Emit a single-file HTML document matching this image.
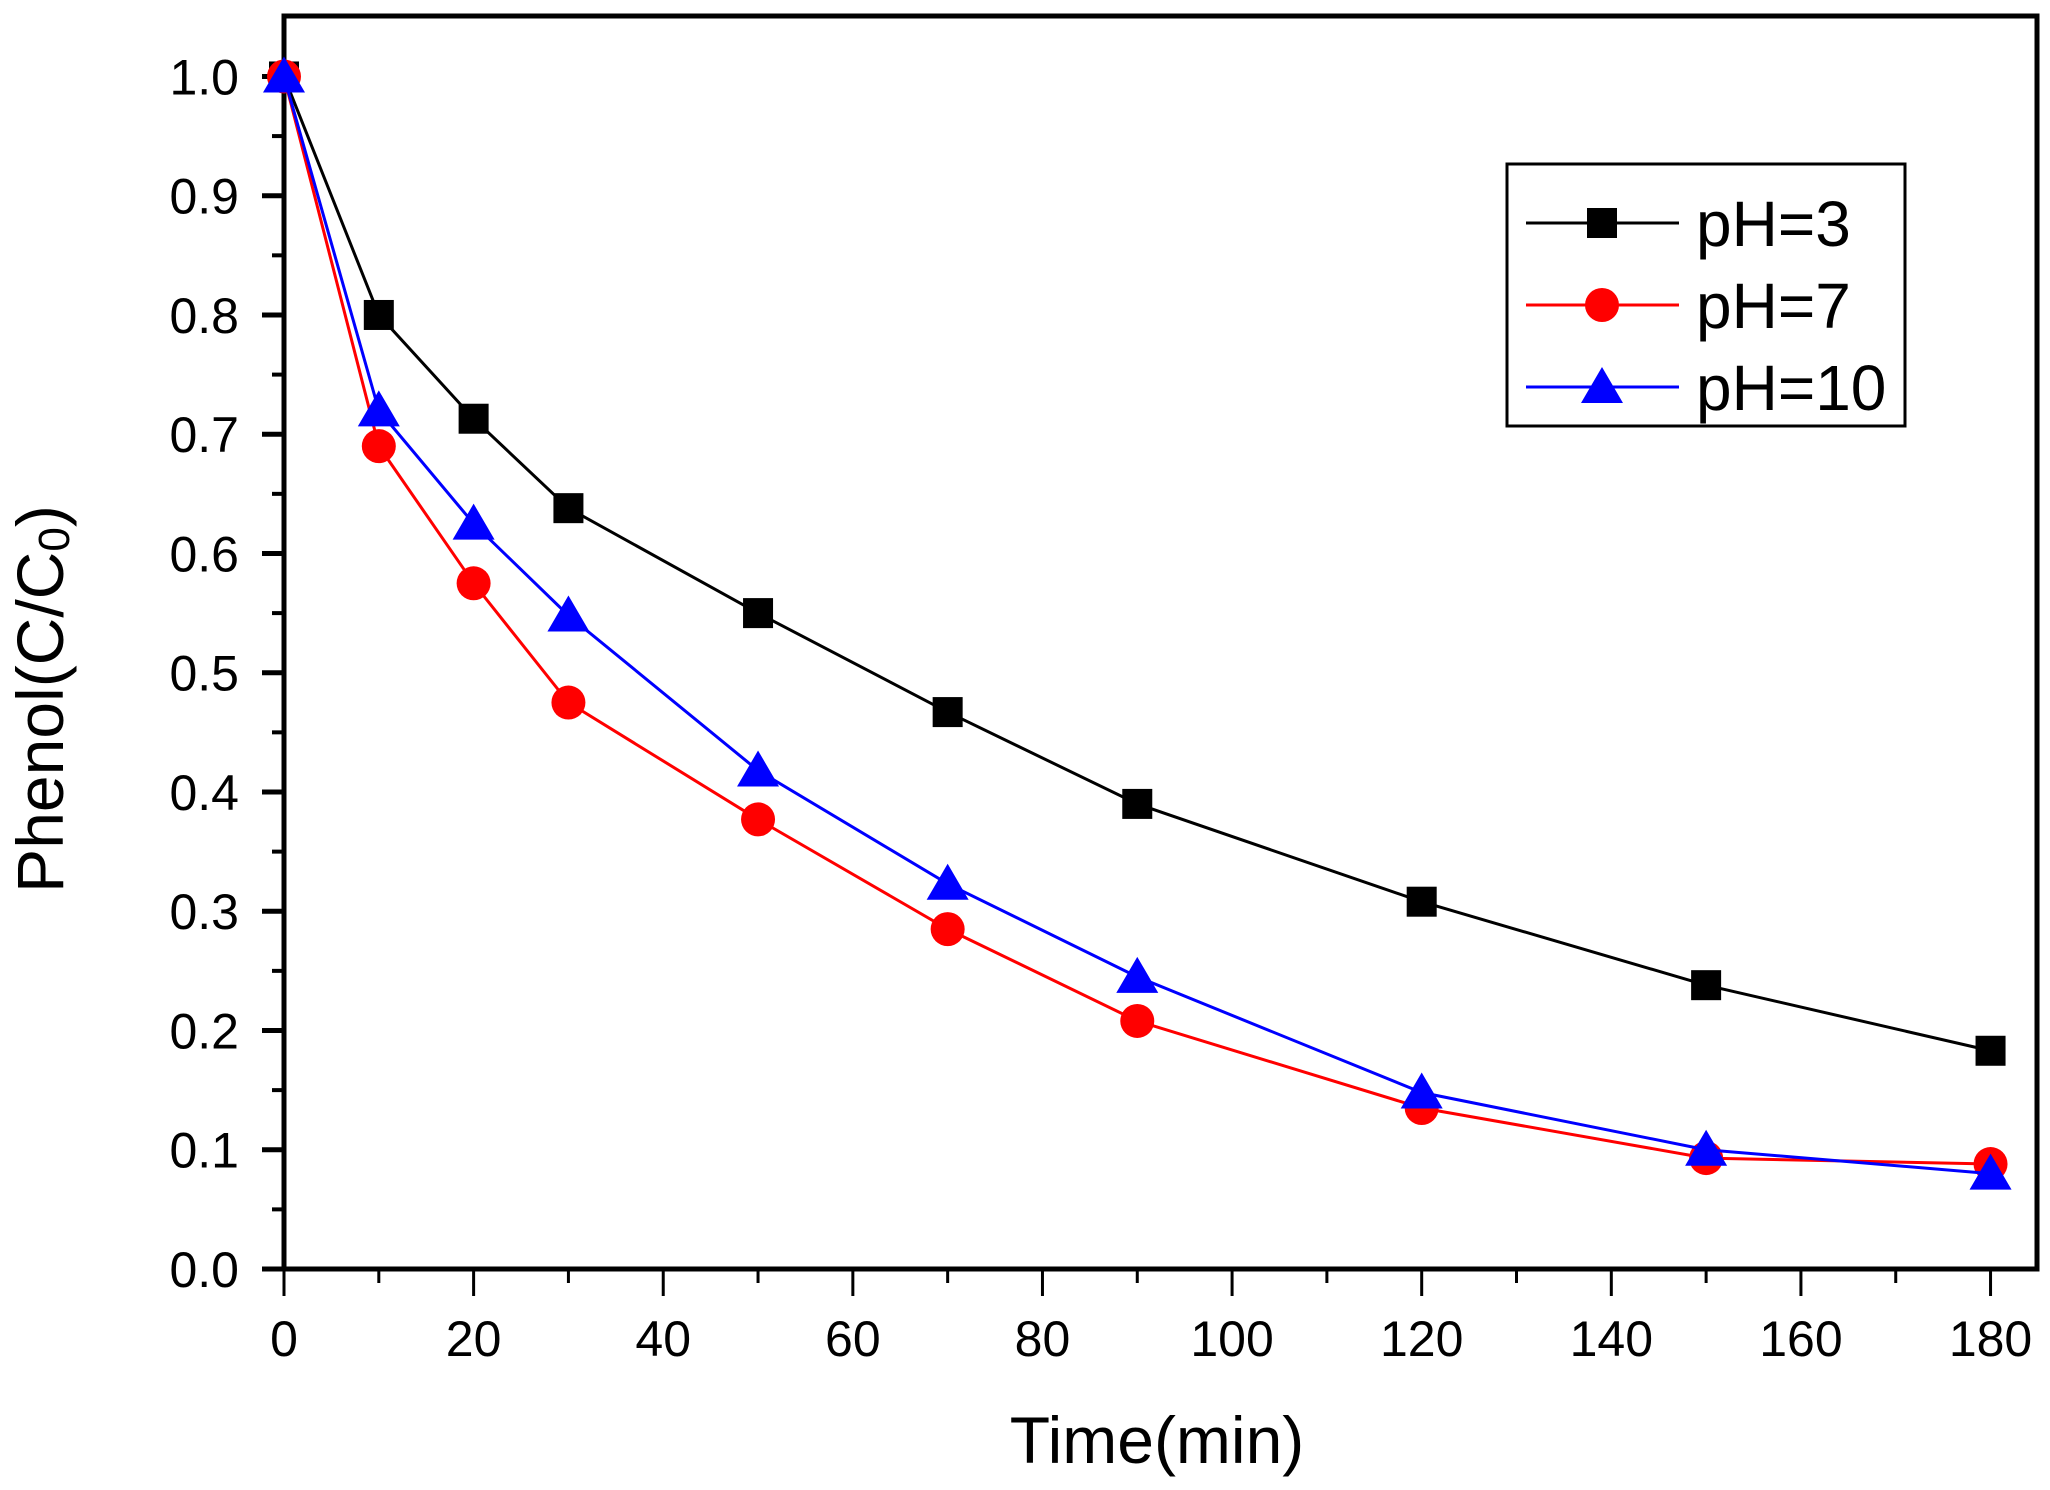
<!DOCTYPE html>
<html><head><meta charset="utf-8"><style>
html,body{margin:0;padding:0;background:#fff}
svg{display:block}
text{font-family:"Liberation Sans",Arial,sans-serif;fill:#000}
</style></head><body>
<svg id="chart" width="2050" height="1490" viewBox="0 0 2050 1490" xmlns="http://www.w3.org/2000/svg">
<g id="axes"></g><g id="series"></g><g id="legend"></g>
</svg>
<script>
const times = [0,10,20,30,50,70,90,120,150,180];
const ph3 = [1.0,0.80,0.713,0.638,0.55,0.467,0.39,0.308,0.238,0.183];
const ph7 = [1.0,0.69,0.575,0.475,0.377,0.285,0.208,0.135,0.093,0.088];
const ph10 = [1.0,0.72,0.625,0.548,0.418,0.323,0.245,0.148,0.10,0.08];
const xTicks = [0,20,40,60,80,100,120,140,160,180];
const yTicks = [0.0,0.1,0.2,0.3,0.4,0.5,0.6,0.7,0.8,0.9,1.0];
const seriesNames = ["pH=3","pH=7","pH=10"];

const NS="http://www.w3.org/2000/svg";
const L=284,R=2037,T=16,B=1269;
const xMin=0,xMax=184.9,yMin=0,yMax=1.0507;
function X(v){return L+(v-xMin)/(xMax-xMin)*(R-L);}
function Y(v){return B-(v-yMin)/(yMax-yMin)*(B-T);}
function mk(tag,attrs,parent){const e=document.createElementNS(NS,tag);for(const k in attrs)e.setAttribute(k,attrs[k]);parent.appendChild(e);return e;}
const axes=document.getElementById('axes'),ser=document.getElementById('series'),leg=document.getElementById('legend');

const frame=mk('rect',{x:L,y:T,width:R-L,height:B-T,fill:'none',stroke:'#000','stroke-width':5},axes);


// x ticks
for(let v=0;v<=180;v+=10){
  const major=v%20===0;
  const t=mk('line',{x1:X(v),x2:X(v),y1:B,y2:B+(major?27:14),stroke:'#000','stroke-width':3},axes);
  
  
}
xTicks.forEach(v=>{
  const t=mk('text',{x:X(v),y:1356,'font-size':50,'text-anchor':'middle'},axes);t.textContent=v;
  
  
});
for(let i=0;i<=20;i++){
  const v=i*0.05,major=i%2===0;
  const t=mk('line',{x1:L,x2:L-(major?22:12),y1:Y(v),y2:Y(v),stroke:'#000','stroke-width':major?5:4},axes);
  
  
}
yTicks.forEach(v=>{
  const t=mk('text',{x:239,y:Y(v)+18,'font-size':50,'text-anchor':'end'},axes);t.textContent=v.toFixed(1);
  
  
});
const xt=mk('text',{x:1157,y:1463,'font-size':66,'text-anchor':'middle'},axes);xt.textContent='Time(min)';


const yt=mk('text',{x:0,y:0,'font-size':66,'text-anchor':'middle',transform:'translate(63,699) rotate(-90)'},axes);
yt.innerHTML='Phenol(C/C<tspan font-size="44" dy="6">0</tspan><tspan dy="-6">)</tspan>';



function marker(type,cx,cy,color,parent){
  let e;
  if(type==='sq') e=mk('rect',{x:cx-15,y:cy-15,width:30,height:30,fill:color},parent);
  else if(type==='ci') e=mk('ellipse',{cx:cx,cy:cy,rx:17,ry:17,fill:color},parent);
  else e=mk('polygon',{points:`${cx},${cy-20} ${cx+21},${cy+16} ${cx-21},${cy+16}`,fill:color},parent);
  return e;
}
const defs=[[ph3,'#000','sq','series-ph3'],[ph7,'#ff0000','ci','series-ph7'],[ph10,'#0000ff','tr','series-ph10']];
defs.forEach(([vals,col,m,name])=>{
  const g=mk('g',{},ser);
  
  
  const pts=times.map((t,i)=>X(t)+','+Y(vals[i])).join(' ');
  const pl=mk('polyline',{points:pts,fill:'none',stroke:col,'stroke-width':3},g);
  
  
  times.forEach((t,i)=>{
    const e=marker(m,X(t),Y(vals[i]),col,g);
    
    
  });
});
// legend
const lb=mk('rect',{x:1507,y:164,width:398,height:262,fill:'#fff',stroke:'#000','stroke-width':3},leg);


defs.forEach(([vals,col,m,name],i)=>{
  const cy=223+i*82;
  const g=mk('g',{},leg);
  
  
  mk('line',{x1:1526,x2:1679,y1:cy,y2:cy,stroke:col,'stroke-width':3},g);
  marker(m,1602,cy,col,g);
  const t=mk('text',{x:1696,y:cy+23,'font-size':64},g);t.textContent=seriesNames[i];
});
</script>
</body></html>
